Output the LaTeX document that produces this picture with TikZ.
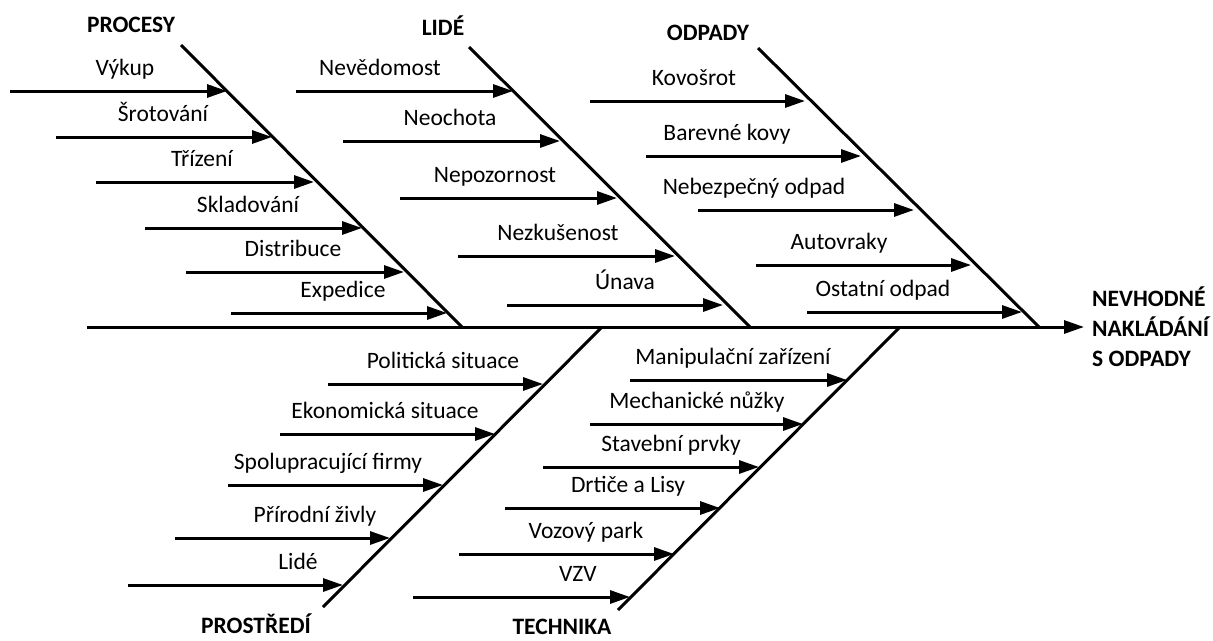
\documentclass[tikz,border=0pt]{standalone}
\usepackage{fontspec}
\setmainfont{Carlito}
\usetikzlibrary{arrows.meta}
\newcommand\fishfont{\fontsize{23.5}{30}\selectfont}
\tikzset{bone/.style={line width=3pt},cause/.style={bone,-{Triangle[length=20pt,width=13pt]}},lbl/.style={anchor=base,inner sep=0pt},cat/.style={lbl,font=\fishfont\bfseries}}

\begin{document}
\begin{tikzpicture}[x=1pt,y=-1pt,font=\fishfont]
\useasboundingbox (0,0) rectangle (1213,640);
\coordinate (tail) at (87,327);
\coordinate (head) at (1084,327);
\draw[cause] (tail) -- (head);
\node[cat,anchor=base west,align=left] (effect) at (1092,366) {NEVHODNÉ\\NAKLÁDÁNÍ\\S ODPADY};
\node[cat] (procesy) at (131,32) {PROCESY};
\node[cat] (lide) at (443,35) {LIDÉ};
\node[cat] (odpady) at (708,40) {ODPADY};
\node[cat] (prostredi) at (256,633) {PROSTŘEDÍ};
\node[cat] (technika) at (562,634) {TECHNIKA};
\coordinate (procesy-a) at (181,45);
\coordinate (procesy-b) at (462,327);
\coordinate (lide-a) at (469,47);
\coordinate (lide-b) at (750,327);
\coordinate (odpady-a) at (758,48);
\coordinate (odpady-b) at (1039,327);
\coordinate (prostredi-a) at (602,327);
\coordinate (prostredi-b) at (323,607);
\coordinate (technika-a) at (900,327);
\coordinate (technika-b) at (618,610);
\foreach \b in {procesy,lide,odpady,prostredi,technika}
  \draw[bone] (\b-a) -- (\b-b);
\foreach \txt/\y/\xs/\xe/\xl [count=\i] in {Výkup/91/10/227/125,Šrotování/137/56/272/163,Třízení/182/96/314/202,Skladování/228/145/362/248,Distribuce/272/186/404/293,Expedice/313/231/447/343}{
  \coordinate (p\i-s) at (\xs,\y);
  \coordinate (p\i-e) at (\xe,\y);
  \draw[cause] (p\i-s) -- (p\i-e);
  \node[lbl] (p\i-l) at (\xl,\y-16) {\txt};
}
\foreach \txt/\y/\xs/\xe/\xl [count=\i] in {Nevědomost/91/296/513/380,Neochota/141/343/560/450,Nepozornost/198/400/617/495,Nezkušenost/256/458/675/558,Únava/305/507/723/625}{
  \coordinate (l\i-s) at (\xs,\y);
  \coordinate (l\i-e) at (\xe,\y);
  \draw[cause] (l\i-s) -- (l\i-e);
  \node[lbl] (l\i-l) at (\xl,\y-16) {\txt};
}
\foreach \txt/\y/\xs/\xe/\xl [count=\i] in {Kovošrot/101/590/805/694,Barevné kovy/156/646/861/727,Nebezpečný odpad/210/698/914/754,Autovraky/265/756/971/839,Ostatní odpad/312/807/1022/883}{
  \coordinate (o\i-s) at (\xs,\y);
  \coordinate (o\i-e) at (\xe,\y);
  \draw[cause] (o\i-s) -- (o\i-e);
  \node[lbl] (o\i-l) at (\xl,\y-16) {\txt};
}
\foreach \txt/\y/\xs/\xe/\xl [count=\i] in {Politická situace/384/328/543/443,Ekonomická situace/434/280/495/385,Spolupracující firmy/485/228/443/328,Přírodní živly/538/175/390/315,Lidé/585/128/343/298}{
  \coordinate (s\i-s) at (\xs,\y);
  \coordinate (s\i-e) at (\xe,\y);
  \draw[cause] (s\i-s) -- (s\i-e);
  \node[lbl] (s\i-l) at (\xl,\y-16) {\txt};
}
\foreach \txt/\y/\xs/\xe/\xl [count=\i] in {Manipulační zařízení/380/630/847/733,Mechanické nůžky/424/590/803/697,Stavební prvky/467/543/759/671,Drtiče a Lisy/508/505/720/628,Vozový park/554/459/674/586,VZV/597/413/630/578}{
  \coordinate (t\i-s) at (\xs,\y);
  \coordinate (t\i-e) at (\xe,\y);
  \draw[cause] (t\i-s) -- (t\i-e);
  \node[lbl] (t\i-l) at (\xl,\y-16) {\txt};
}
\end{tikzpicture}
\end{document}
